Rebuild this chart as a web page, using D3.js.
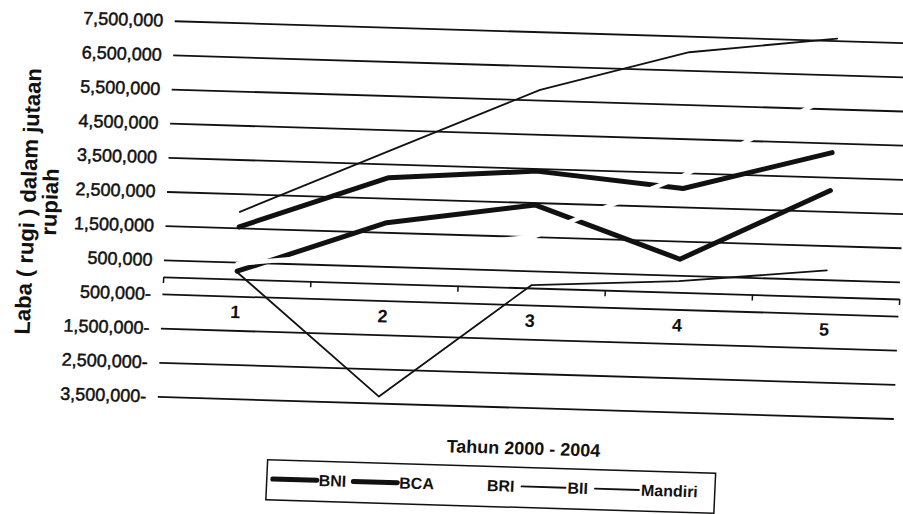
<!DOCTYPE html>
<html>
<head>
<meta charset="utf-8">
<script src="https://cdn.jsdelivr.net/npm/d3@7"></script>
<style>
  html, body { margin: 0; padding: 0; background: #fff; }
  svg { display: block; font-family: "Liberation Sans", Arial, sans-serif; }
</style>
</head>
<body>
<svg id="chart"></svg>
<script>
// Laba (rugi) per bank, jutaan rupiah, tahun ke-1..5 (2000 - 2004)
const years = ['1', '2', '3', '4', '5'];
const bni = [230000, 1780000, 2430000, 970000, 3110000];
const bca = [1530000, 3100000, 3420000, 3040000, 4220000];
const bri = [450000, 950000, 1500000, 3420000, 5950000];
const bii = [200000, -3310000, 80000, 330000, 770000];
const mandiri = [1970000, 3890000, 5800000, 7030000, 7560000];
const seriesNames = ['BNI', 'BCA', 'BRI', 'BII', 'Mandiri'];
const yTicks = [7500000, 6500000, 5500000, 4500000, 3500000, 2500000, 1500000,
  500000, -500000, -1500000, -2500000, -3500000];

const seriesData = { BNI: bni, BCA: bca, BRI: bri, BII: bii, Mandiri: mandiri };
// BRI printed as white in the scan: only shows as breaks in the other lines
const lineStyle = {
  BNI: { stroke: '#111', width: 5 },
  BCA: { stroke: '#111', width: 5 },
  BRI: { stroke: '#fff', width: 4.5 },
  BII: { stroke: '#111', width: 1.8 },
  Mandiri: { stroke: '#111', width: 1.8 }
};

const width = 903, height = 514;
const plot = { left: 164.5, right: 900.5, top: 29.3, bottom: 405 };

const svg = d3.select('#chart')
  .attr('width', width)
  .attr('height', height);
svg.append('rect')
  .attr('width', width)
  .attr('height', height)
  .attr('fill', '#fff');

// the source is a skewed scan, so tilt the whole drawing round the page centre
const k = 0.045, b = 0.030, cx = 450, cy = 257;
const g = svg.append('g')
  .attr('transform', `matrix(1, ${b}, ${-k}, 1, ${k * cy}, ${-b * cx})`);

const x = d3.scalePoint()
  .domain(years)
  .range([plot.left, plot.right])
  .padding(0.5);
const xEdge = d3.scaleLinear()
  .domain([0, years.length])
  .range([plot.left, plot.right]);
const y = d3.scaleLinear()
  .domain([-3500000, 7500000])
  .range([plot.bottom, plot.top]);

const fmt = d3.format(',');

// gridlines + value labels
g.append('g')
  .attr('transform', `translate(${plot.left},0)`)
  .call(d3.axisLeft(y)
    .tickValues(yTicks)
    .tickSize(-(plot.right - plot.left))
    .tickPadding(11.5)
    .tickFormat(d => fmt(Math.abs(d)) + (d < 0 ? '-' : '')))
  .attr('font-family', null)
  .call(a => a.select('.domain').remove())
  .call(a => a.selectAll('.tick line')
    .attr('stroke', '#111')
    .attr('stroke-width', 1.8))
  .call(a => a.selectAll('.tick text')
    .attr('font-size', 18)
    .attr('fill', '#111')
    .attr('stroke', '#111')
    .attr('stroke-width', 0.5));

// category axis on zero
g.append('g')
  .attr('transform', `translate(0,${y(0)})`)
  .call(d3.axisBottom(xEdge)
    .tickValues(d3.range(years.length + 1))
    .tickSize(6)
    .tickSizeOuter(0)
    .tickFormat(''))
  .call(a => a.select('.domain').attr('stroke', '#111').attr('stroke-width', 1.8))
  .call(a => a.selectAll('.tick line').attr('stroke', '#111').attr('stroke-width', 1.5));

g.append('g')
  .selectAll('text')
  .data(years)
  .join('text')
    .attr('x', d => x(d))
    .attr('y', y(0) + 39)
    .attr('text-anchor', 'middle')
    .attr('font-size', 18)
    .attr('font-weight', 'bold')
    .attr('fill', '#111')
    .text(d => d);

// series
const line = d3.line()
  .x((d, i) => x(years[i]))
  .y(d => y(d));

g.append('g')
  .selectAll('path')
  .data(seriesNames)
  .join('path')
    .attr('d', name => line(seriesData[name]))
    .attr('fill', 'none')
    .attr('stroke', name => lineStyle[name].stroke)
    .attr('stroke-width', name => lineStyle[name].width)
    .attr('stroke-linecap', 'round')
    .attr('stroke-linejoin', 'round');

// axis titles
const yTitle = g.append('text')
  .attr('transform', 'translate(33.5,214) rotate(-90)')
  .attr('text-anchor', 'middle')
  .attr('font-size', 22)
  .attr('font-weight', 'bold')
  .attr('fill', '#111');
yTitle.append('tspan').attr('x', 0).attr('y', 0).text('Laba ( rugi ) dalam jutaan');
yTitle.append('tspan').attr('x', 0).attr('y', 22).text('rupiah');

g.append('text')
  .attr('x', 532)
  .attr('y', 452)
  .attr('text-anchor', 'middle')
  .attr('font-size', 18)
  .attr('font-weight', 'bold')
  .attr('fill', '#111')
  .text('Tahun 2000 - 2004');

// legend
const legend = g.append('g');
legend.append('rect')
  .attr('x', 277)
  .attr('y', 465)
  .attr('width', 448)
  .attr('height', 40)
  .attr('fill', '#fff')
  .attr('stroke', '#111')
  .attr('stroke-width', 1.5);

let lx = 283;
const ly = 484;
seriesNames.forEach(name => {
  legend.append('line')
    .attr('x1', lx)
    .attr('x2', lx + 44)
    .attr('y1', ly)
    .attr('y2', ly)
    .attr('stroke', lineStyle[name].stroke)
    .attr('stroke-width', lineStyle[name].width)
    .attr('stroke-linecap', 'round');
  const t = legend.append('text')
    .attr('x', lx + 46)
    .attr('y', ly)
    .attr('dy', '0.35em')
    .attr('font-size', 16)
    .attr('font-weight', 'bold')
    .attr('fill', '#111')
    .text(name);
  lx += 46 + t.node().getComputedTextLength() + 7;
});
</script>
</body>
</html>
